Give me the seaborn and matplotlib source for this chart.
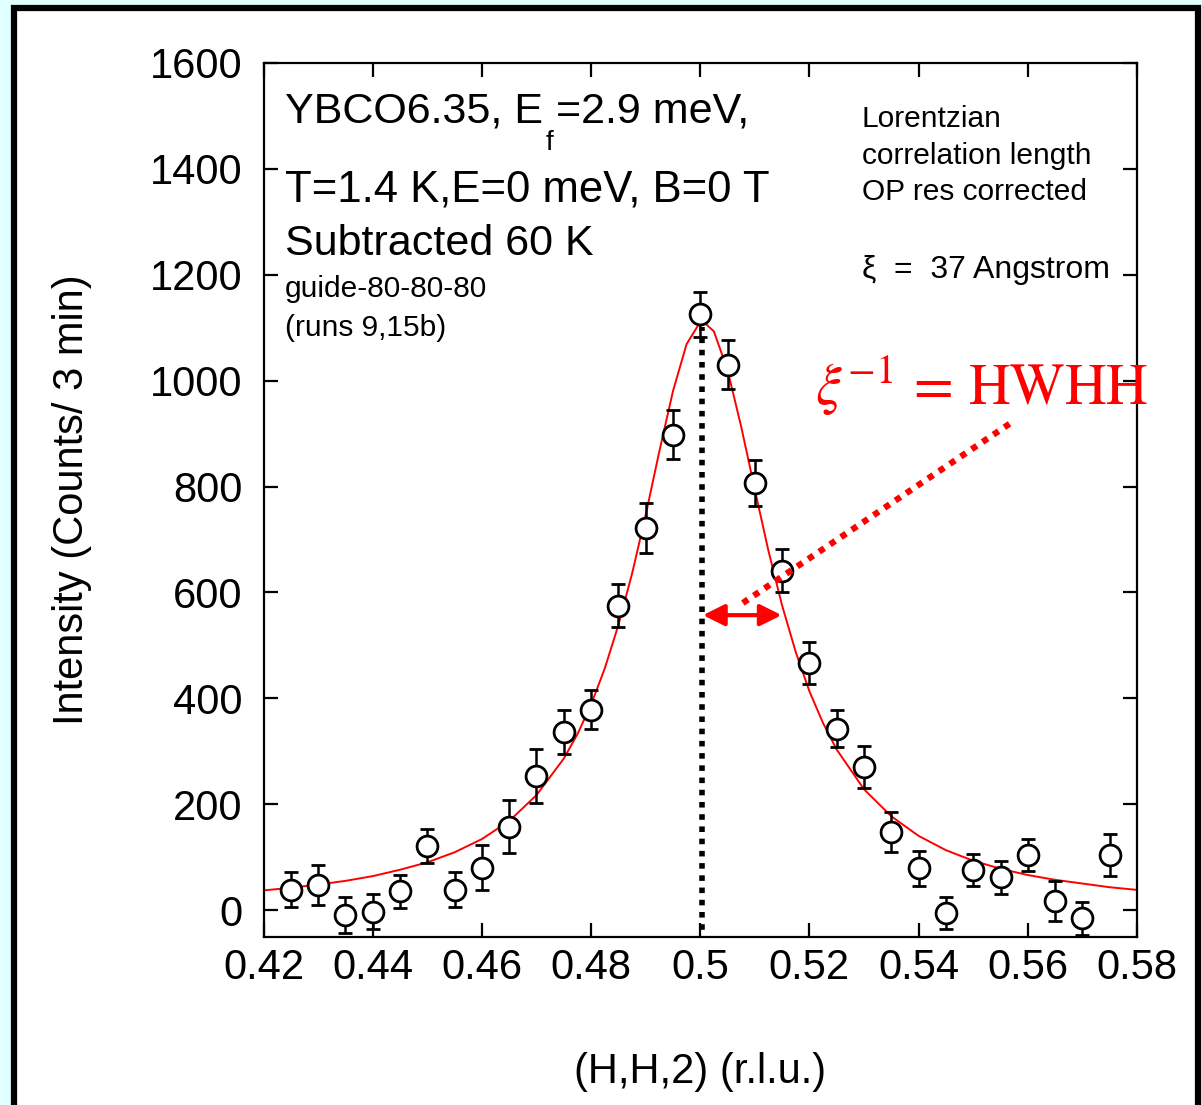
import seaborn as sns
import matplotlib.pyplot as plt
from matplotlib.patches import Rectangle

# measured scan (H,H,2), counts / 3 min, errors
h = [0.425, 0.43, 0.435, 0.44, 0.445, 0.45, 0.455, 0.46, 0.465, 0.47, 0.475,
     0.48, 0.485, 0.49, 0.495, 0.5, 0.505, 0.51, 0.515, 0.52, 0.525, 0.53,
     0.535, 0.54, 0.545, 0.55, 0.555, 0.56, 0.565, 0.57, 0.575]
counts = [38, 47, -9, -3, 35, 121, 38, 80, 157, 254, 336,
          378, 575, 722, 898, 1125, 1030, 807, 641, 467, 342, 270,
          148, 79, -6, 76, 62, 104, 17, -16, 104]
err = [33, 38, 34, 33, 31, 32, 33, 43, 50, 51, 41,
       37, 41, 47, 46, 42, 46, 44, 40, 40, 35, 39,
       38, 33, 30, 30, 31, 30, 37, 31, 40]

# Lorentzian fit curve
fit_h = [0.42, 0.425, 0.43, 0.435, 0.44, 0.445, 0.45, 0.455, 0.46, 0.465, 0.47,
         0.475, 0.4775, 0.48, 0.4825, 0.485, 0.4875, 0.49, 0.4925, 0.495, 0.4975,
         0.5, 0.5005, 0.5025, 0.505, 0.5075, 0.51, 0.5125, 0.515, 0.5175, 0.52,
         0.5225, 0.525, 0.53, 0.535, 0.54, 0.545, 0.55, 0.555, 0.56, 0.565,
         0.57, 0.575, 0.58]
fit_counts = [37, 42, 48, 55, 64, 76, 90, 109, 134, 168, 217,
              286, 332, 388, 456, 538, 635, 746, 866, 980, 1069,
              1111, 1112, 1093, 1020, 913, 794, 678, 575, 487, 413,
              353, 303, 228, 177, 140, 113, 93, 78, 66, 57,
              50, 43, 38]

xticks = [0.42, 0.44, 0.46, 0.48, 0.5, 0.52, 0.54, 0.56, 0.58]
xtick_labels = ['0.42', '0.44', '0.46', '0.48', '0.5', '0.52', '0.54', '0.56', '0.58']
yticks = [0, 200, 400, 600, 800, 1000, 1200, 1400, 1600]

peak_h = 0.5003
peak_top = 1102
hwhh_left = 0.5005
hwhh_right = 0.5149
hwhh_level = 557
pointer_x = [0.5078, 0.5576]
pointer_y = [580, 925]

sns.set_theme(style='ticks')
plt.rcParams['font.family'] = ['Liberation Sans', 'DejaVu Sans']
plt.rcParams.update({'text.color': 'black', 'axes.labelcolor': 'black',
                     'xtick.color': 'black', 'ytick.color': 'black'})

fig = plt.figure(figsize=(12.02, 11.05), dpi=100, facecolor='#E0FFFF')
fig.patches.append(Rectangle((14 / 1202, -10 / 1105), 1184 / 1202, 1.0 + 2 / 1105,
                             transform=fig.transFigure, facecolor='white',
                             edgecolor='black', lw=4.5, zorder=-10))

ax = fig.add_axes([263.5 / 1202, 1 - 937 / 1105, 873.5 / 1202, 874 / 1105])
ax.set_zorder(1)
ax.set_facecolor('white')

sns.lineplot(x=fit_h, y=fit_counts, ax=ax, color='red', lw=1.4, zorder=2)
ax.errorbar(h, counts, yerr=err, fmt='o', ms=15, mfc='white', mec='black',
            mew=2.0, ecolor='black', elinewidth=1.8, capsize=5, capthick=1.8,
            zorder=3)

ax.plot([peak_h, peak_h], [-60, peak_top], color='black', lw=4.0,
        linestyle=(0, (1, 1.2)), dash_capstyle='butt', zorder=4)
ax.plot(pointer_x, pointer_y, color='red', lw=4.5,
        linestyle=(0, (1, 1.1)), dash_capstyle='butt', zorder=4)
ax.annotate('', xy=(hwhh_left, hwhh_level), xytext=(hwhh_right, hwhh_level),
            arrowprops=dict(arrowstyle='<|-|>,head_length=1.0,head_width=0.5',
                            mutation_scale=13, color='red', lw=3.0,
                            shrinkA=0, shrinkB=0), zorder=5)

ax.set_xlim(0.42, 0.58)
ax.set_ylim(-51, 1600)
ax.set_xticks(xticks)
ax.set_xticklabels(xtick_labels)
ax.set_yticks(yticks)
for s in ax.spines.values():
    s.set_linewidth(1.6)
    s.set_color('black')
ax.tick_params(direction='in', length=10, width=1.6, top=True, right=True,
               labelsize=30, colors='black')
ax.tick_params(axis='x', pad=8)
ax.tick_params(axis='y', pad=15)

ax.set_xlabel('(H,H,2) (r.l.u.)', fontsize=30)
ax.set_ylabel('Intensity (Counts/ 3 min)', fontsize=30)
ax.xaxis.set_label_coords(0.5, -0.132)
ax.yaxis.set_label_coords(-0.196, 0.5)

t1 = ax.text(0.4239, 1487, 'YBCO6.35, E', fontsize=31, va='baseline')
ax.annotate('f', xy=(1, 0), xycoords=t1, xytext=(3, 2),
            textcoords='offset pixels', fontsize=20, va='top', ha='left')
ax.annotate('=2.9 meV,', xy=(1, 0), xycoords=t1, xytext=(13, 0),
            textcoords='offset pixels', fontsize=31, va='bottom', ha='left')
ax.text(0.4239, 1338, 'T=1.4 K,E=0 meV, B=0 T', fontsize=31.5, va='baseline')
ax.text(0.4239, 1237, 'Subtracted 60 K', fontsize=31, va='baseline')
ax.text(0.4239, 1158, 'guide-80-80-80', fontsize=21.5, va='baseline')
ax.text(0.4239, 1085, '(runs 9,15b)', fontsize=21.5, va='baseline')

ax.text(0.5296, 1479, 'Lorentzian', fontsize=21.5, va='baseline')
ax.text(0.5296, 1410, 'correlation length', fontsize=21.5, va='baseline')
ax.text(0.5296, 1341, 'OP res corrected', fontsize=21.5, va='baseline')
ax.text(0.5296, 1194, 'ξ  =  37 Angstrom', fontsize=23, va='baseline')

ax.text(0.521, 954, r'$\xi^{-1}\,=\,\mathrm{HWHH}$', fontsize=41.5, color='red',
        math_fontfamily='stix', va='baseline', ha='left', clip_on=False,
        zorder=6)

fig.savefig('out.png', dpi=100, facecolor=fig.get_facecolor())
